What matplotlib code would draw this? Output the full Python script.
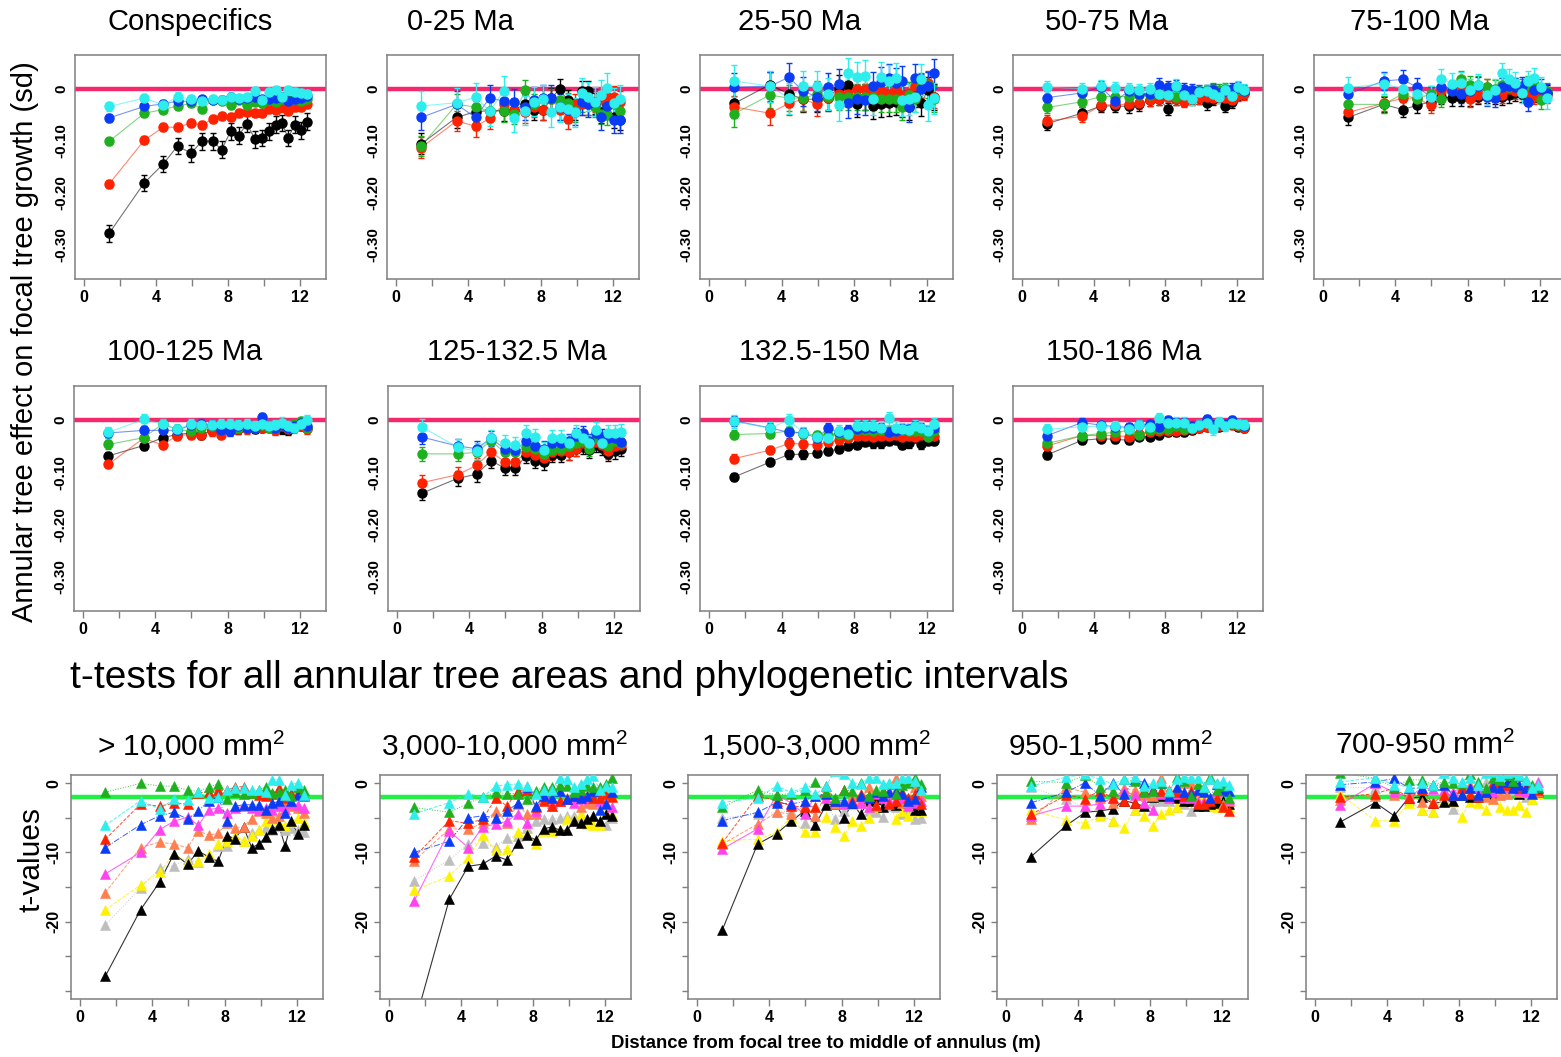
import numpy as np
import matplotlib
matplotlib.use("Agg")
from matplotlib import pyplot as plt

plt.rcParams['font.family'] = ['Liberation Sans', 'DejaVu Sans']
plt.rcParams['mathtext.fontset'] = 'custom'
plt.rcParams['mathtext.rm'] = 'Liberation Sans'
plt.rcParams['mathtext.it'] = 'Liberation Sans:italic'

W, H = 1561, 1057

# distance from focal tree to middle of each annulus (m)
dist = [1.4, 3.35, 4.4, 5.2, 5.95, 6.55, 7.15, 7.65, 8.15, 8.6,
        9.05, 9.5, 9.9, 10.3, 10.65, 11.0, 11.35, 11.7, 12.05, 12.4]

# effect panels, series order: black, red, green, blue, cyan
eff_titles = ["Conspecifics", "0-25 Ma", "25-50 Ma", "50-75 Ma", "75-100 Ma",
              "100-125 Ma", "125-132.5 Ma", "132.5-150 Ma", "150-186 Ma"]

consp = [
    [-0.278, -0.181, -0.145, -0.110, -0.124, -0.101, -0.101, -0.117, -0.082, -0.090,
     -0.067, -0.097, -0.095, -0.082, -0.069, -0.066, -0.095, -0.069, -0.080, -0.063],
    [-0.183, -0.099, -0.074, -0.074, -0.066, -0.070, -0.058, -0.052, -0.054, -0.046,
     -0.045, -0.047, -0.046, -0.038, -0.040, -0.036, -0.042, -0.035, -0.035, -0.029],
    [-0.101, -0.047, -0.040, -0.033, -0.028, -0.039, -0.021, -0.023, -0.031, -0.021,
     -0.031, -0.025, -0.028, -0.021, -0.026, -0.020, -0.021, -0.020, -0.023, -0.020],
    [-0.056, -0.034, -0.029, -0.024, -0.024, -0.020, -0.021, -0.021, -0.016, -0.020,
     -0.017, -0.015, -0.020, -0.020, -0.018, -0.015, -0.024, -0.020, -0.018, -0.014],
    [-0.034, -0.018, -0.031, -0.015, -0.020, -0.024, -0.020, -0.022, -0.016, -0.018,
     -0.016, -0.005, -0.021, -0.006, -0.003, -0.015, -0.002, -0.007, -0.008, -0.011],
]
ma_0_25 = [
    [-0.106, -0.055, -0.044, -0.042, -0.042, -0.040, -0.030, -0.040, -0.040, -0.018,
     -0.001, -0.022, -0.040, -0.005, -0.005, -0.028, -0.045, -0.030, -0.055, -0.060],
    [-0.113, -0.062, -0.072, -0.057, -0.030, -0.040, -0.045, -0.035, -0.040, -0.020,
     -0.040, -0.058, -0.030, -0.030, -0.030, -0.025, -0.020, -0.015, -0.015, -0.025],
    [-0.110, -0.030, -0.035, -0.043, -0.043, -0.048, -0.003, -0.030, -0.020, -0.020,
     -0.022, -0.028, -0.043, -0.025, -0.030, -0.035, -0.048, -0.050, -0.030, -0.042],
    [-0.055, -0.030, -0.055, -0.017, -0.024, -0.025, -0.035, -0.022, -0.018, -0.018,
     -0.035, -0.040, -0.045, -0.025, -0.030, -0.025, -0.055, -0.033, -0.060, -0.060],
    [-0.033, -0.027, -0.016, -0.043, -0.004, -0.056, -0.042, -0.025, -0.020, -0.045,
     -0.035, -0.038, -0.045, -0.008, -0.015, -0.025, -0.012, 0.002, -0.027, -0.020],
]
ma_25_50 = [
    [-0.028, 0.008, -0.010, -0.020, -0.020, -0.018, 0.002, 0.008, -0.030, -0.015,
     -0.033, -0.030, -0.028, -0.025, -0.030, -0.035, -0.010, -0.028, -0.003, -0.015],
    [-0.035, -0.047, -0.028, -0.020, -0.030, -0.018, -0.010, -0.010, 0.000, 0.000,
     -0.012, -0.005, -0.010, -0.005, -0.012, -0.008, 0.005, 0.005, 0.012, -0.015],
    [-0.048, -0.012, -0.018, -0.018, -0.010, -0.015, -0.015, -0.015, -0.015, -0.015,
     -0.015, -0.020, -0.020, -0.020, -0.035, -0.012, -0.020, 0.005, 0.008, -0.020],
    [0.003, 0.005, 0.022, -0.005, -0.015, 0.003, 0.010, -0.028, -0.020, -0.022,
     0.005, 0.013, 0.020, 0.012, 0.015, -0.035, 0.020, 0.000, 0.005, 0.030],
    [0.015, 0.005, -0.018, 0.005, 0.005, -0.010, -0.032, 0.030, 0.022, 0.025,
     -0.020, 0.022, 0.015, 0.020, -0.022, -0.020, -0.015, 0.018, -0.032, -0.018],
]
ma_50_75 = [
    [-0.067, -0.047, -0.033, -0.033, -0.034, -0.030, -0.022, -0.020, -0.039, -0.020,
     -0.022, -0.020, -0.018, -0.028, -0.020, -0.015, -0.033, -0.025, -0.010, -0.008],
    [-0.062, -0.053, -0.032, -0.030, -0.030, -0.028, -0.022, -0.020, -0.015, -0.020,
     -0.025, -0.018, -0.018, -0.015, -0.018, -0.015, -0.018, -0.022, -0.012, -0.010],
    [-0.036, -0.025, -0.015, -0.015, -0.015, -0.012, -0.012, -0.010, -0.010, -0.015,
     -0.008, -0.005, -0.005, -0.003, 0.000, -0.002, 0.000, -0.005, -0.003, -0.005],
    [-0.017, -0.008, 0.003, -0.023, -0.005, -0.010, -0.010, 0.008, 0.003, 0.005,
     0.000, -0.003, -0.005, -0.005, -0.003, -0.008, -0.005, 0.000, 0.002, -0.005],
    [0.003, 0.000, 0.005, 0.002, 0.000, -0.002, 0.000, -0.010, -0.012, 0.006,
     -0.012, -0.020, -0.007, -0.005, -0.010, -0.015, -0.003, -0.014, 0.003, -0.003],
]
ma_75_100 = [
    [-0.055, -0.030, -0.040, -0.032, -0.025, -0.015, -0.018, -0.018, -0.018, -0.015,
     -0.013, -0.015, -0.016, -0.012, -0.008, -0.010, -0.018, -0.010, -0.010, -0.008],
    [-0.045, -0.028, -0.018, -0.018, -0.032, -0.005, -0.002, -0.005, -0.020, -0.012,
     0.003, -0.010, -0.012, 0.000, -0.005, -0.005, -0.008, -0.015, -0.012, -0.012],
    [-0.030, -0.030, -0.010, -0.020, -0.010, -0.020, 0.000, 0.018, 0.008, 0.008,
     0.003, 0.000, 0.008, 0.003, 0.005, 0.003, 0.008, 0.010, -0.022, -0.005],
    [-0.010, 0.015, 0.018, 0.003, -0.015, 0.003, -0.005, -0.010, -0.005, 0.005,
     -0.015, -0.018, 0.003, 0.005, 0.003, 0.005, -0.025, -0.002, 0.000, -0.008],
    [0.002, 0.010, 0.000, -0.010, -0.015, 0.018, 0.010, 0.012, -0.002, 0.008,
     -0.012, -0.002, 0.030, 0.018, 0.012, -0.008, 0.015, 0.020, 0.003, -0.018],
]
ma_100_125 = [
    [-0.069, -0.049, -0.034, -0.028, -0.025, -0.028, -0.020, -0.020, -0.020, -0.018,
     -0.015, -0.017, -0.015, -0.013, -0.018, -0.018, -0.020, -0.015, -0.012, -0.015],
    [-0.085, -0.035, -0.048, -0.030, -0.028, -0.028, -0.022, -0.028, -0.020, -0.018,
     -0.018, -0.015, -0.015, -0.015, -0.020, -0.012, -0.018, -0.015, -0.012, -0.018],
    [-0.047, -0.034, -0.008, -0.018, -0.022, -0.015, -0.012, -0.015, -0.012, -0.015,
     -0.012, -0.015, -0.010, -0.015, -0.015, -0.010, -0.015, -0.008, -0.003, -0.015],
    [-0.025, -0.020, -0.020, -0.020, -0.010, -0.008, -0.010, -0.020, -0.022, -0.012,
     -0.015, -0.015, 0.005, -0.012, -0.015, -0.010, -0.015, -0.012, -0.005, -0.012],
    [-0.024, 0.001, -0.008, -0.018, -0.008, -0.010, -0.010, -0.008, -0.008, -0.010,
     -0.008, -0.012, -0.008, -0.012, -0.010, -0.005, -0.012, -0.015, -0.008, 0.000],
]
ma_125_132 = [
    [-0.140, -0.112, -0.104, -0.078, -0.092, -0.092, -0.069, -0.078, -0.081, -0.067,
     -0.067, -0.062, -0.055, -0.052, -0.058, -0.048, -0.053, -0.065, -0.060, -0.055],
    [-0.120, -0.105, -0.087, -0.061, -0.080, -0.080, -0.062, -0.068, -0.072, -0.062,
     -0.060, -0.062, -0.055, -0.045, -0.050, -0.042, -0.048, -0.060, -0.050, -0.048],
    [-0.065, -0.065, -0.062, -0.040, -0.062, -0.062, -0.052, -0.055, -0.065, -0.058,
     -0.055, -0.050, -0.045, -0.040, -0.055, -0.035, -0.045, -0.050, -0.040, -0.045],
    [-0.033, -0.050, -0.055, -0.035, -0.055, -0.058, -0.040, -0.050, -0.055, -0.045,
     -0.045, -0.040, -0.030, -0.025, -0.040, -0.025, -0.032, -0.035, -0.035, -0.042],
    [-0.014, -0.052, -0.060, -0.035, -0.044, -0.048, -0.025, -0.033, -0.058, -0.035,
     -0.035, -0.045, -0.025, -0.035, -0.045, -0.020, -0.045, -0.025, -0.025, -0.024],
]
ma_132_150 = [
    [-0.109, -0.081, -0.066, -0.066, -0.063, -0.060, -0.056, -0.049, -0.048, -0.042,
     -0.045, -0.045, -0.040, -0.039, -0.048, -0.045, -0.035, -0.047, -0.040, -0.040],
    [-0.074, -0.058, -0.045, -0.046, -0.048, -0.042, -0.039, -0.035, -0.030, -0.030,
     -0.032, -0.030, -0.030, -0.029, -0.032, -0.030, -0.032, -0.029, -0.030, -0.030],
    [-0.028, -0.026, -0.021, -0.026, -0.029, -0.028, -0.026, -0.029, -0.019, -0.019,
     -0.022, -0.019, -0.022, -0.022, -0.019, -0.022, -0.022, -0.022, -0.032, -0.022],
    [-0.002, -0.015, -0.024, -0.025, -0.035, -0.016, -0.023, -0.020, -0.018, -0.015,
     -0.015, -0.015, -0.024, -0.022, -0.017, -0.018, -0.012, -0.015, -0.022, -0.015],
    [-0.003, -0.016, 0.000, -0.025, -0.033, -0.035, -0.022, -0.027, -0.012, -0.012,
     -0.012, -0.015, 0.003, -0.015, -0.018, -0.020, -0.012, -0.015, -0.022, -0.008],
]
ma_150_186 = [
    [-0.067, -0.039, -0.036, -0.037, -0.039, -0.032, -0.032, -0.029, -0.024, -0.023,
     -0.024, -0.020, -0.016, -0.013, -0.010, -0.013, -0.010, -0.008, -0.013, -0.016],
    [-0.050, -0.030, -0.030, -0.030, -0.032, -0.026, -0.024, -0.022, -0.022, -0.022,
     -0.020, -0.018, -0.015, -0.013, -0.012, -0.012, -0.010, -0.010, -0.012, -0.015],
    [-0.045, -0.030, -0.026, -0.024, -0.020, -0.028, -0.020, -0.018, -0.017, -0.012,
     -0.017, -0.015, -0.010, -0.002, -0.012, -0.005, -0.008, -0.005, -0.010, -0.012],
    [-0.030, -0.005, -0.010, -0.013, -0.014, -0.010, -0.008, -0.013, 0.000, -0.005,
     -0.005, -0.012, -0.010, 0.001, -0.010, -0.005, -0.008, 0.000, -0.008, -0.012],
    [-0.018, -0.013, -0.012, -0.012, -0.018, -0.010, -0.014, 0.004, -0.005, -0.005,
     -0.005, -0.015, -0.010, -0.005, -0.018, -0.004, -0.012, -0.005, -0.008, -0.010],
]
eff_data = [consp, ma_0_25, ma_25_50, ma_50_75, ma_75_100,
            ma_100_125, ma_125_132, ma_132_150, ma_150_186]
# standard errors (black, red, green, blue, cyan) per panel
eff_se = [
    [0.016, 0.008, 0.007, 0.007, 0.008],
    [0.020, 0.020, 0.020, 0.025, 0.028],
    [0.025, 0.022, 0.025, 0.028, 0.030],
    [0.012, 0.011, 0.011, 0.012, 0.012],
    [0.015, 0.015, 0.016, 0.018, 0.020],
    [0.008, 0.008, 0.008, 0.009, 0.010],
    [0.014, 0.014, 0.014, 0.014, 0.016],
    [0.008, 0.008, 0.008, 0.010, 0.012],
    [0.007, 0.007, 0.007, 0.008, 0.010],
]

# t-value panels, series order: black, red, green, blue, cyan, magenta, coral, yellow, gray
t_titles = ["> 10,000 mm$^2$", "3,000-10,000 mm$^2$", "1,500-3,000 mm$^2$",
            "950-1,500 mm$^2$", "700-950 mm$^2$"]
t_gt10000 = [
    [-27.9, -18.3, -14.3, -10.2, -11.7, -9.8, -10.7, -11.3, -7.6, -8.0,
     -6.3, -9.3, -8.8, -7.7, -6.6, -6.0, -9.1, -5.5, -7.4, -6.0],
    [-8.1, -3.0, -3.3, -2.9, -3.0, -1.4, -1.2, -1.0, -1.0, -0.5,
     -0.5, -1.4, -1.7, -1.9, -1.5, -0.7, -2.1, -1.4, -1.4, -1.9],
    [-1.3, 0.0, -0.4, -0.4, -1.0, -1.2, -0.5, -0.1, -2.3, -1.2,
     -1.5, -1.4, -0.9, -0.5, -1.4, -1.2, -1.0, -1.8, -0.5, -1.0],
    [-9.3, -6.0, -4.7, -4.2, -5.2, -4.0, -2.5, -2.0, -5.5, -3.3,
     -3.1, -3.1, -3.1, -3.8, -2.9, -2.6, -4.3, -2.6, -1.7, -1.7],
    [-6.1, -2.5, -3.7, -2.3, -2.4, -1.2, -2.1, -2.0, -0.9, -0.7,
     -0.7, -1.0, -1.0, -1.3, 0.5, 0.5, -1.7, -0.2, 0.1, -1.7],
    [-13.1, -10.0, -6.7, -5.5, -4.9, -6.1, -3.8, -3.6, -4.3, -3.6,
     -3.3, -3.6, -3.9, -3.6, -3.8, -3.3, -3.7, -2.9, -3.1, -3.6],
    [-15.8, -9.3, -8.5, -8.8, -9.3, -6.9, -7.5, -7.2, -5.7, -6.4,
     -6.3, -5.1, -4.0, -4.3, -5.0, -4.7, -3.1, -3.3, -3.6, -4.3],
    [-18.3, -14.7, -12.9, -10.2, -11.4, -11.2, -10.2, -8.8, -8.3, -7.6,
     -8.3, -7.6, -6.7, -5.5, -5.2, -5.7, -6.2, -5.6, -5.0, -5.6],
    [-20.5, -15.1, -12.3, -11.9, -11.0, -11.4, -10.7, -9.1, -9.0, -7.8,
     -8.3, -7.2, -6.7, -6.4, -6.7, -6.2, -6.7, -6.4, -6.7, -7.0],
]
t_3000_10000 = [
    [-35.0, -16.8, -12.0, -11.7, -10.5, -11.1, -8.6, -7.5, -8.2, -6.6,
     -6.3, -6.8, -6.8, -5.5, -5.7, -5.2, -4.8, -5.5, -4.5, -4.8],
    [-10.7, -5.4, -5.8, -5.2, -2.1, -3.3, -1.1, -0.9, -3.5, -2.5,
     -3.3, -2.5, -2.3, -1.8, -1.6, -1.8, -2.1, -2.1, -1.6, -2.0],
    [-3.5, -4.2, -2.9, -2.0, -1.3, -1.5, -1.5, -2.2, -1.1, -0.5,
     -0.6, -0.2, -0.4, -1.2, -0.9, -0.4, -0.6, -0.6, -0.1, 0.8],
    [-10.0, -8.4, -5.0, -4.7, -5.0, -4.0, -2.9, -0.5, -3.3, -1.8,
     -2.1, -1.1, -2.3, -1.8, -2.1, -1.8, -1.1, -3.8, -3.0, -1.3],
    [-4.4, -2.8, -1.5, -2.0, -0.4, -0.2, -0.1, -0.4, -1.5, -1.0,
     -0.9, 0.7, 0.6, -0.6, -0.1, 0.6, 1.0, -0.9, -0.4, -0.6],
    [-17.0, -6.9, -9.3, -6.3, -5.9, -5.5, -4.4, -5.7, -4.0, -1.6,
     -2.8, -2.5, -2.3, -2.8, -2.3, -2.1, -1.1, -2.5, -2.9, -3.5],
    [-11.2, -6.6, -6.6, -5.8, -4.0, -5.7, -3.0, -4.5, -4.4, -2.1,
     -3.3, -2.5, -2.1, -1.8, -3.4, -2.9, -3.0, -1.8, -1.8, -1.8],
    [-15.5, -13.4, -10.8, -7.5, -9.7, -9.5, -7.1, -7.4, -8.8, -6.9,
     -6.9, -6.8, -5.2, -5.3, -4.4, -5.9, -6.1, -6.0, -4.5, -4.4],
    [-14.1, -11.1, -8.8, -8.7, -9.2, -7.9, -7.6, -6.5, -5.4, -5.2,
     -5.2, -5.0, -4.7, -4.7, -5.0, -5.2, -4.7, -5.4, -6.0, -5.0],
]
t_1500_3000 = [
    [-21.2, -8.8, -7.3, -5.5, -4.0, -6.0, -3.1, -3.0, -5.0, -2.8,
     -4.5, -2.5, -2.3, -3.5, -2.9, -3.2, -2.3, -2.8, -3.8, -3.8],
    [-8.6, -1.8, -2.5, -3.3, -3.4, -3.4, -0.4, -2.5, -1.0, -2.5,
     -1.6, -1.8, -3.1, -1.1, -3.0, -2.5, -1.3, -2.1, -1.6, -3.0],
    [-3.5, -1.0, -1.7, -1.5, -0.9, 0.2, -1.2, -2.1, -1.0, -1.1,
     0.0, -1.8, -0.9, -1.1, -0.1, -1.6, -0.2, 0.1, 0.8, -0.1],
    [-5.4, -4.2, -2.8, -3.0, -2.6, -1.8, -1.6, -2.6, -2.5, -2.8,
     -1.8, -2.1, -1.3, -1.8, -1.3, -1.1, -1.6, -2.5, -2.3, -0.6],
    [-2.8, -2.1, -0.4, -1.3, -0.6, -1.6, -0.4, 1.8, 1.3, 0.1,
     -0.1, 0.8, 0.8, -0.1, 0.1, 0.0, 0.8, 0.8, 0.3, -1.0],
    [-9.5, -6.6, -1.7, -2.8, -4.5, -1.8, -2.1, -2.5, -3.0, -2.6,
     -2.8, -3.4, -1.6, -2.1, -2.5, -2.3, -2.1, -3.3, -2.9, -2.5],
    [-8.8, -5.9, -4.2, -4.4, -3.3, -4.7, -1.3, -3.0, -1.0, -1.8,
     -2.5, -0.6, -3.3, -1.3, -1.1, 0.8, -2.8, -2.1, -0.6, -1.8],
    [-8.3, -8.1, -7.1, -4.9, -7.1, -7.1, -4.9, -6.3, -7.6, -5.5,
     -6.2, -5.0, -3.5, -2.1, -2.8, -5.2, -4.0, -4.7, -4.0, -4.0],
    [-5.0, -4.5, -4.2, -4.0, -5.7, -3.5, -3.0, -5.2, -4.0, -3.0,
     -2.8, -4.0, -4.1, -4.9, -3.3, -3.5, -4.4, -4.0, -5.2, -5.0],
]
t_950_1500 = [
    [-10.6, -6.1, -4.2, -4.0, -3.7, -2.5, -2.9, -3.3, -2.0, -1.8,
     -1.8, -2.1, -2.5, -2.5, -3.3, -3.3, -3.0, -2.9, -2.5, -3.0],
    [-4.5, -1.7, -2.2, -1.1, -2.1, -2.5, -2.8, -0.9, -1.0, -1.1,
     -1.1, -1.3, -1.8, -1.1, -3.0, -3.0, -2.5, -2.1, -3.5, -4.0],
    [0.3, 0.1, 1.2, -0.5, -1.1, 0.6, 0.3, -1.3, -1.1, 0.1,
     -1.3, 0.9, 0.3, -1.8, -0.1, -0.6, 0.9, -0.9, -0.4, -2.1],
    [-2.8, -1.3, 0.1, -1.8, 0.1, -1.6, 0.6, 0.1, -0.9, 0.1,
     -1.8, -0.6, -1.3, -1.6, -0.9, -1.3, -2.1, -0.1, -0.9, -1.1],
    [-0.4, 0.9, 1.3, 0.6, -0.1, 0.6, 0.9, -0.4, 0.1, 0.4,
     -1.1, 0.6, 0.9, 0.8, 0.8, -0.6, 0.6, 0.1, 0.3, -0.2],
    [-4.7, -3.3, -3.3, -3.0, -2.1, -1.1, -1.7, -2.8, -3.8, -1.6,
     -2.1, -1.6, -2.1, -2.1, -2.6, -2.6, -2.1, -1.1, -0.9, -2.3],
    [-5.2, -0.6, -1.3, -2.1, -2.9, -0.7, -1.0, -1.7, -1.8, 0.7,
     -0.9, -1.1, 0.1, 0.0, -1.1, -0.6, 0.6, -0.1, -3.0, -2.5],
    [-3.9, -5.3, -5.8, -4.7, -5.4, -6.5, -3.8, -4.7, -6.2, -4.4,
     -3.8, -3.5, -2.5, -2.5, -2.3, -1.6, -3.3, -3.4, -3.5, -3.5],
    [-0.6, -2.3, -3.5, -4.4, -5.5, -2.5, -3.8, -3.0, -2.5, -2.5,
     -2.5, -3.5, -3.0, -4.0, -2.8, -2.5, -3.3, -3.3, -3.0, -2.6],
]
t_700_950 = [
    [-5.6, -2.8, -4.7, -2.1, -2.0, -2.9, -2.7, -2.6, -1.7, -2.0,
     -2.0, -1.0, -1.5, 0.2, -0.4, 0.5, -1.5, -0.7, -1.0, -1.2],
    [-2.0, -1.5, -0.7, -2.1, -1.0, -2.9, -1.7, -1.7, -0.7, -1.5,
     -2.0, -1.2, 0.0, 0.2, -0.2, -0.2, -0.7, -0.5, -0.6, -1.0],
    [1.5, 0.7, -0.6, 0.5, 0.5, -0.2, 0.2, 0.0, 0.0, 1.3,
     0.2, -0.7, 0.7, 0.5, 1.2, 0.3, 1.1, 0.5, -0.2, -0.5],
    [-0.2, 0.2, 0.7, -0.7, -0.7, -0.3, -0.2, -1.7, -1.7, -0.7,
     -1.7, -1.2, -0.5, -0.7, 0.2, -0.7, -0.2, -0.7, -1.5, -0.7],
    [0.2, 0.8, -0.2, -0.5, 0.0, -0.2, 1.5, 0.7, 0.2, 0.8,
     -0.2, 1.5, 1.7, 1.0, 1.5, 1.7, 1.2, 0.5, -0.7, -0.2],
    [-3.1, 0.0, -1.3, -2.0, -0.7, -0.8, -1.0, -1.2, -0.7, -0.5,
     -0.7, -1.0, -1.2, -0.7, -0.6, -0.2, -1.0, -1.2, -0.7, 0.2],
    [-2.4, -1.8, -1.7, -1.5, -2.7, -2.7, -1.5, -1.7, -0.7, -0.2,
     -0.7, -2.0, -2.2, -1.7, -1.5, -0.6, -1.2, -0.2, -0.7, -1.2],
    [-1.6, -5.4, -5.4, -2.9, -3.9, -4.1, -2.4, -2.7, -4.9, -2.7,
     -2.8, -3.9, -2.2, -3.4, -3.8, -3.9, -3.2, -4.2, -2.2, -1.5],
    [-0.5, -0.7, -1.2, -2.4, -3.9, -4.2, -2.0, -3.7, -1.2, -0.7,
     -0.7, 0.2, -1.2, -1.7, -1.5, -1.0, -0.7, -2.0, -2.3, -1.2],
]
t_data = [t_gt10000, t_3000_10000, t_1500_3000, t_950_1500, t_700_950]

eff_colors = ['#000000', '#FF2200', '#1EB01E', '#0A3CF5', '#2DEDED']
t_colors = ['#000000', '#FF2200', '#1EB01E', '#0A3CF5', '#2DEDED',
            '#FF44EE', '#FF7F50', '#FFF200', '#BEBEBE']
t_styles = ['-', '--', ':', '-.', '--', '-', '--', '--', ':']
t_order = [8, 7, 0, 6, 5, 1, 3, 2, 4]

# layout in pixels: (left, top, right, bottom), title centre (x, y)
eff_boxes = [(75, 55, 326, 279), (387, 55, 639, 279), (700, 55, 953, 279),
             (1013, 55, 1263, 279), (1314, 55, 1566, 279),
             (74, 386, 326, 611), (388, 386, 640, 611), (700, 386, 953, 611),
             (1013, 386, 1263, 611)]
eff_title_xy = [(190, 22), (460, 22), (800, 22), (1107, 22), (1420, 22),
                (185, 352), (517, 352), (829, 352), (1124, 352)]
t_boxes = [(71, 775, 323, 999), (380, 775, 631, 999), (688, 775, 940, 999),
           (997, 775, 1248, 999), (1306, 775, 1557, 999)]
t_title_xy = [(191, 745), (504, 745), (816, 745), (1111, 745), (1425, 745)]

fig = plt.figure(figsize=(W / 100, H / 100), dpi=100)
box_col = '#7f7f7f'


def px_axes(l, t, r, b):
    return fig.add_axes([l / W, 1 - b / H, (r - l) / W, (b - t) / H])


def style_x(ax):
    ax.set_xlim(-0.5, 13.45)
    ax.set_xticks([0, 2, 4, 6, 8, 10, 12])
    ax.set_xticklabels(['0', '', '4', '', '8', '', '12'])
    ax.tick_params(axis='x', direction='out', length=5, width=1, color=box_col,
                   labelsize=11.5, pad=3)
    for lab in ax.get_xticklabels():
        lab.set_fontweight('bold')
    for sp in ax.spines.values():
        sp.set_color(box_col)
        sp.set_linewidth(1.1)


def px2fig(x, y):
    return x / W, 1 - y / H


for i in range(9):
    ax = px_axes(*eff_boxes[i])
    ax.axhline(0, color='#F5286E', lw=3.2, zorder=1)
    for vals, err, col in zip(eff_data[i], eff_se[i], eff_colors):
        ax.plot(dist, vals, color=col, lw=0.8, alpha=0.55, zorder=2)
        ax.errorbar(dist, vals, yerr=err, fmt='o', color=col, ms=6.5,
                    capsize=2.2, elinewidth=1, capthick=1, zorder=3)
    ax.set_ylim(-0.366, 0.065)
    ax.set_yticks([0, -0.1, -0.2, -0.3])
    ax.set_yticklabels(['0', '-0.10', '-0.20', '-0.30'], rotation=90, va='center',
                       fontweight='bold')
    ax.tick_params(axis='y', length=0, labelsize=11, pad=5)
    style_x(ax)
    fig.text(*px2fig(*eff_title_xy[i]), eff_titles[i], ha='center', va='center',
             fontsize=21)

for i in range(5):
    ax = px_axes(*t_boxes[i])
    ax.axhline(-1.96, color='#22EE44', lw=3.2, zorder=1)
    for k in t_order:
        vals = t_data[i][k]
        col = t_colors[k]
        lw = 0.8 if t_styles[k] == '-' else 0.7
        ax.plot(dist, vals, color=col, ls=t_styles[k], lw=lw, alpha=0.8, zorder=2)
        ax.plot(dist, vals, '^', color=col, ms=7.5, mec=col, mew=0.4, zorder=3)
    ax.set_ylim(-31.2, 1.2)
    ax.set_yticks([0, -5, -10, -15, -20, -25, -30])
    ax.set_yticklabels(['0', '', '-10', '', '-20', '', ''], rotation=90, va='center',
                       fontweight='bold')
    ax.tick_params(axis='y', direction='out', length=4, width=1, color=box_col,
                   labelsize=11.5, pad=3)
    style_x(ax)
    fig.text(*px2fig(*t_title_xy[i]), t_titles[i], ha='center', va='center',
             fontsize=21.5)

fig.text(*px2fig(25, 342), "Annular tree effect on focal tree growth (sd)",
         rotation=90, ha='center', va='center', fontsize=21)
fig.text(*px2fig(32, 860), "t-values", rotation=90, ha='center', va='center',
         fontsize=21.5)
fig.text(*px2fig(70, 678), "t-tests for all annular tree areas and phylogenetic intervals",
         ha='left', va='center', fontsize=28)
fig.text(*px2fig(826, 1043), "Distance from focal tree to middle of annulus (m)",
         ha='center', va='center', fontsize=13.3, fontweight='bold')

fig.savefig("out.png", dpi=100)
